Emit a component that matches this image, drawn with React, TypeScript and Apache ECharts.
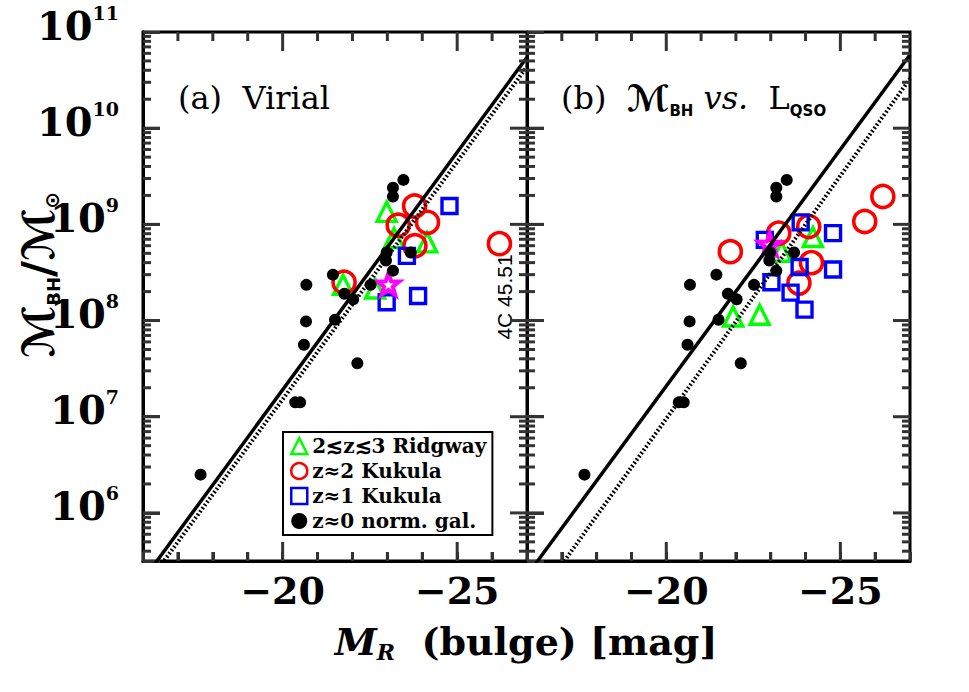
import React, { useEffect, useRef } from 'react';
import * as echarts from 'echarts';

// ---- axes ----
const xMin = -27;
const xMax = -16;
const yMin = Math.pow(10, 5.5);
const yMax = 1e11;
const xLabelValues = [-20, -25];
const xMajorTicks = [-20, -25];
const xMinorTicks = [-17, -18, -19, -21, -22, -23, -24, -26];
const yMajorTicks = [1e6, 1e7, 1e8, 1e9, 1e10];
const yMinorMantissas = [2, 3, 4, 5, 6, 7, 8, 9];
const yDecades = [5, 6, 7, 8, 9, 10];

// ---- data: [M_R (bulge), M_BH / M_sun] ----
const normGal: [number, number][] = [
  [-23.46, 2.9e9], [-23.16, 2.4e9], [-23.16, 1.95e9], [-23.67, 5.1e8], [-22.98, 5.1e8],
  [-22.96, 4.2e8], [-23.16, 3.3e8], [-21.44, 3.0e8], [-22.52, 2.35e8], [-20.68, 2.35e8],
  [-21.77, 1.9e8], [-22.02, 1.66e8], [-21.5, 1.02e8], [-20.67, 9.8e7], [-20.61, 5.6e7],
  [-22.14, 3.6e7], [-20.36, 1.41e7], [-20.5, 1.41e7], [-17.65, 2.5e6],
];

// panel (a) Virial
const ridgwayVirial: [number, number][] = [
  [-22.98, 1.35e9], [-23.19, 7.2e8], [-24.14, 6.5e8], [-21.73, 2.35e8], [-22.65, 2.15e8],
];
const kukula2Virial: [number, number][] = [
  [-23.78, 1.55e9], [-24.15, 1.05e9], [-23.31, 9.8e8], [-23.79, 6.0e8], [-26.21, 6.3e8], [-21.76, 2.5e8],
];
const kukula1Virial: [number, number][] = [
  [-24.78, 1.55e9], [-23.56, 4.7e8], [-23.88, 1.8e8], [-22.98, 1.55e8],
];
const starVirial: [number, number][] = [[-23.03, 2.4e8]];
const fitSolidVirial: [number, number][] = [[-16, 2.01e5], [-27, 5.47e10]];
const fitDottedVirial: [number, number][] = [[-16, 1.6e5], [-27, 4.35e10]];

// panel (b) M_BH vs. L_QSO
const ridgwayLqso: [number, number][] = [
  [-24.21, 7.4e8], [-23.31, 5.2e8], [-21.92, 1.1e8], [-22.68, 1.15e8],
];
const kukula2Lqso: [number, number][] = [
  [-21.84, 5.2e8], [-23.23, 8.1e8], [-24.09, 9.5e8], [-24.17, 4.0e8], [-23.81, 2.45e8],
  [-26.22, 1.95e9], [-25.7, 1.07e9],
];
const kukula1Lqso: [number, number][] = [
  [-23.86, 1.05e9], [-24.79, 8.1e8], [-22.83, 6.9e8], [-24.79, 3.4e8], [-23.83, 3.6e8],
  [-23.02, 2.5e8], [-23.57, 1.95e8], [-23.97, 1.3e8],
];
const starLqso: [number, number][] = [[-22.97, 6.2e8]];
const fitSolidLqso: [number, number][] = [[-16, 2.24e5], [-27, 5.8e10]];
const fitDottedLqso: [number, number][] = [[-16, 9.1e4], [-27, 3.27e10]];

const NAME_R = '2\u2272z\u22723 Ridgway';
const NAME_K2 = 'z\u22482 Kukula';
const NAME_K1 = 'z\u22481 Kukula';
const NAME_G = 'z\u22480 norm. gal.';

const SERIF = "'DejaVu Serif', serif";
const SANS = "'DejaVu Sans', sans-serif";
const STAR = 'path://M0,-10 L2.35,-3.24 L9.51,-3.09 L3.8,1.24 L5.88,8.09 L0,4 L-5.88,8.09 L-3.8,1.24 L-9.51,-3.09 L-2.35,-3.24 Z';
const INK = '#000';
const TICK_INK = '#333333';
const TW = 3;

// Tick marks on all four frame edges, placed through the axes' scales
function tickItems(): any[] {
  const d: any[] = [];
  xMinorTicks.forEach((v) => {
    d.push({ value: [v, yMax], symbolSize: [TW, 9], symbolOffset: [0, 4.5] });
    d.push({ value: [v, yMin], symbolSize: [TW, 9], symbolOffset: [0, -4.5] });
  });
  xMajorTicks.forEach((v) => {
    d.push({ value: [v, yMax], symbolSize: [TW, 19], symbolOffset: [0, 9.5] });
    d.push({ value: [v, yMin], symbolSize: [TW, 19], symbolOffset: [0, -9.5] });
  });
  yMajorTicks.forEach((v) => {
    d.push({ value: [xMax, v], symbolSize: [17, TW], symbolOffset: [8.5, 0] });
    d.push({ value: [xMin, v], symbolSize: [17, TW], symbolOffset: [-8.5, 0] });
  });
  yDecades.forEach((e) =>
    yMinorMantissas.forEach((k) => {
      const v = k * Math.pow(10, e);
      if (v <= yMin || v >= yMax) return;
      d.push({ value: [xMax, v], symbolSize: [8, TW], symbolOffset: [4, 0] });
      d.push({ value: [xMin, v], symbolSize: [8, TW], symbolOffset: [-4, 0] });
    })
  );
  return d;
}

function panelSeries(
  g: number,
  ridg: [number, number][], k2: [number, number][], k1: [number, number][],
  star: [number, number][], solid: [number, number][], dotted: [number, number][]
): any[] {
  return [
    {
      name: 'ticks', type: 'scatter', xAxisIndex: g, yAxisIndex: g, data: tickItems(), symbol: 'rect',
      clip: false, silent: true, z: 6, itemStyle: { color: TICK_INK, opacity: 1 },
    },
    {
      name: NAME_R, type: 'scatter', xAxisIndex: g, yAxisIndex: g, data: ridg, symbol: 'triangle', symbolSize: 19, z: 3,
      itemStyle: { color: 'rgba(0,0,0,0)', borderColor: '#00ff00', borderWidth: 3.4, opacity: 1 },
    },
    {
      name: NAME_K2, type: 'scatter', xAxisIndex: g, yAxisIndex: g, data: k2, symbol: 'circle', symbolSize: 22, z: 3,
      itemStyle: { color: 'rgba(0,0,0,0)', borderColor: '#ff0000', borderWidth: 3.6, opacity: 1 },
    },
    {
      name: NAME_K1, type: 'scatter', xAxisIndex: g, yAxisIndex: g, data: k1, symbol: 'rect', symbolSize: 15, z: 3,
      itemStyle: { color: 'rgba(0,0,0,0)', borderColor: '#0000ff', borderWidth: 3.4, opacity: 1 },
    },
    {
      name: 'star', type: 'scatter', xAxisIndex: g, yAxisIndex: g, data: star, symbol: STAR, symbolSize: 22, z: 3,
      itemStyle: { color: 'rgba(0,0,0,0)', borderColor: '#ff00ff', borderWidth: 4, opacity: 1 },
    },
    {
      name: 'fit', type: 'line', xAxisIndex: g, yAxisIndex: g, data: solid, symbol: 'none', z: 4,
      lineStyle: { color: INK, width: 3.5, type: 'solid' },
    },
    {
      name: 'fit2', type: 'line', xAxisIndex: g, yAxisIndex: g, data: dotted, symbol: 'none', z: 4,
      lineStyle: { color: INK, width: 4, type: [1.8, 2.2] },
    },
    {
      name: NAME_G, type: 'scatter', xAxisIndex: g, yAxisIndex: g, data: normGal, symbol: 'circle', symbolSize: 12, z: 5,
      itemStyle: { color: INK, opacity: 1 },
    },
  ];
}

function xAxis(g: number): any {
  return {
    type: 'value', gridIndex: g, min: xMin, max: xMax, interval: 1, inverse: true, position: 'bottom',
    splitLine: { show: false },
    axisLine: { show: true, onZero: false, lineStyle: { color: INK, width: 3 } },
    axisTick: { show: true, inside: true, length: 9, lineStyle: { color: TICK_INK, width: TW } },
    axisLabel: {
      show: true, interval: 0, margin: 10, color: INK, fontSize: 38, fontWeight: 'bold', fontFamily: SERIF,
      formatter: (v: number) => (xLabelValues.indexOf(v) >= 0 ? '\u2212' + Math.abs(v) : ''),
    },
  };
}

function yAxis(g: number): any {
  return {
    type: 'log', logBase: 10, gridIndex: g, min: yMin, max: yMax, position: 'left',
    splitLine: { show: false },
    minorTick: { show: false },
    axisLine: { show: true, onZero: false, lineStyle: { color: INK, width: 3 } },
    axisTick: { show: true, inside: true, length: 17, lineStyle: { color: TICK_INK, width: TW } },
    axisLabel: g === 0
      ? {
          show: true, margin: 24, padding: [0, 0, 14, 0],
          formatter: (v: number) => {
            const e = Math.log10(v);
            const r = Math.round(e);
            if (Math.abs(e - r) > 1e-6) return '';
            return '{b|10}{s|' + r + '}';
          },
          rich: {
            b: { fontSize: 40, fontWeight: 'bold', fontFamily: SERIF, color: INK, lineHeight: 44, verticalAlign: 'middle' },
            s: { fontSize: 19, fontWeight: 'bold', fontFamily: SERIF, color: INK, lineHeight: 26, verticalAlign: 'top' },
          },
        }
      : { show: false },
  };
}

const graphicEls: any[] = [
  {
    type: 'text', x: 178, y: 98,
    style: { text: '(a)  Virial', fontSize: 32, fontFamily: SERIF, fill: INK, verticalAlign: 'middle', textVerticalAlign: 'middle' },
  },
  {
    type: 'text', x: 561, y: 98,
    style: {
      text: '{n|(b)  }{m|\u2133}{sb|BH}{i| vs.}{n|  L}{sb|QSO}',
      verticalAlign: 'middle', textVerticalAlign: 'middle',
      rich: {
        n: { fontSize: 32, fontFamily: SERIF, fill: INK, color: INK, lineHeight: 40, verticalAlign: 'middle' },
        m: { fontSize: 36, fontFamily: SANS, fontWeight: 'bold', fill: INK, color: INK, lineHeight: 40, verticalAlign: 'middle' },
        i: { fontSize: 32, fontFamily: SERIF, fontStyle: 'italic', fill: INK, color: INK, lineHeight: 40, verticalAlign: 'middle' },
        sb: { fontSize: 15, fontFamily: SANS, fontWeight: 'bold', fill: INK, color: INK, lineHeight: 16, verticalAlign: 'bottom' },
      },
    },
  },
  {
    type: 'text', x: 504, y: 297, rotation: Math.PI / 2,
    style: { text: '4C 45.51', fontSize: 21, fontFamily: "'Liberation Sans', sans-serif", fill: INK, align: 'center', verticalAlign: 'middle', textAlign: 'center', textVerticalAlign: 'middle' },
  },
  {
    type: 'text', x: 38, y: 275, rotation: Math.PI / 2,
    style: {
      text: '{m|\u2133}{s|BH}{m|/\u2133}{o|\u2299}',
      align: 'center', verticalAlign: 'middle', textAlign: 'center', textVerticalAlign: 'middle',
      rich: {
        m: { fontSize: 44, fontFamily: SANS, fontWeight: 'bold', fill: INK, color: INK, lineHeight: 48, verticalAlign: 'middle' },
        s: { fontSize: 18, fontFamily: SANS, fontWeight: 'bold', fill: INK, color: INK, lineHeight: 18, verticalAlign: 'bottom' },
        o: { fontSize: 20, fontFamily: SANS, fontWeight: 'bold', fill: INK, color: INK, lineHeight: 20, verticalAlign: 'bottom' },
      },
    },
  },
  {
    type: 'text', x: 526, y: 641,
    style: {
      text: '{m|M}{r|R}{t|  (bulge) [mag]}',
      align: 'center', verticalAlign: 'middle', textAlign: 'center', textVerticalAlign: 'middle',
      rich: {
        m: { fontSize: 38, fontFamily: SERIF, fontWeight: 'bold', fontStyle: 'italic', fill: INK, color: INK, lineHeight: 44, verticalAlign: 'middle' },
        r: { fontSize: 22, fontFamily: SERIF, fontWeight: 'bold', fontStyle: 'italic', fill: INK, color: INK, lineHeight: 22, verticalAlign: 'bottom' },
        t: { fontSize: 38, fontFamily: SERIF, fontWeight: 'bold', fill: INK, color: INK, lineHeight: 44, verticalAlign: 'middle' },
      },
    },
  },
];

export default function App() {
  const ref = useRef<HTMLDivElement>(null);
  useEffect(() => {
    if (!ref.current) return;
    const chart = echarts.init(ref.current, undefined, { renderer: 'svg' });
    const option: any = {
      animation: false,
      backgroundColor: '#fff',
      grid: [
        { left: 143, top: 32, width: 384, height: 529 },
        { left: 527, top: 32, width: 383, height: 529 },
      ],
      xAxis: [xAxis(0), xAxis(1)],
      yAxis: [yAxis(0), yAxis(1)],
      legend: {
        left: 283, top: 432, orient: 'vertical', selectedMode: false,
        borderColor: INK, borderWidth: 2, backgroundColor: '#fff',
        padding: [4, 6, 4, 7], itemGap: 5, itemWidth: 16, itemHeight: 16,
        textStyle: { fontFamily: SERIF, fontSize: 20, fontWeight: 'bold', color: INK },
        data: [
          { name: NAME_R, icon: 'triangle', itemStyle: { color: 'rgba(0,0,0,0)', borderColor: '#00ff00', borderWidth: 2.5 } },
          { name: NAME_K2, icon: 'circle', itemStyle: { color: 'rgba(0,0,0,0)', borderColor: '#ff0000', borderWidth: 2.5 } },
          { name: NAME_K1, icon: 'rect', itemStyle: { color: 'rgba(0,0,0,0)', borderColor: '#0000ff', borderWidth: 2.5 } },
          { name: NAME_G, icon: 'circle', itemStyle: { color: INK, borderWidth: 0 } },
        ],
      },
      graphic: [
        ...graphicEls,
        { type: 'rect', silent: true, z: -1, shape: { x: 143, y: 32, width: 767, height: 529 }, style: { fill: 'none', stroke: INK, lineWidth: 3 } },
        { type: 'line', silent: true, z: -1, shape: { x1: 527, y1: 32, x2: 527, y2: 561 }, style: { stroke: INK, lineWidth: 3 } },
      ],
      series: [
        ...panelSeries(0, ridgwayVirial, kukula2Virial, kukula1Virial, starVirial, fitSolidVirial, fitDottedVirial),
        ...panelSeries(1, ridgwayLqso, kukula2Lqso, kukula1Lqso, starLqso, fitSolidLqso, fitDottedLqso),
      ],
    };
    chart.setOption(option);
    return () => chart.dispose();
  }, []);
  return <div ref={ref} style={{ position: 'absolute', left: 0, top: 0, width: 969, height: 692 }} />;
}
